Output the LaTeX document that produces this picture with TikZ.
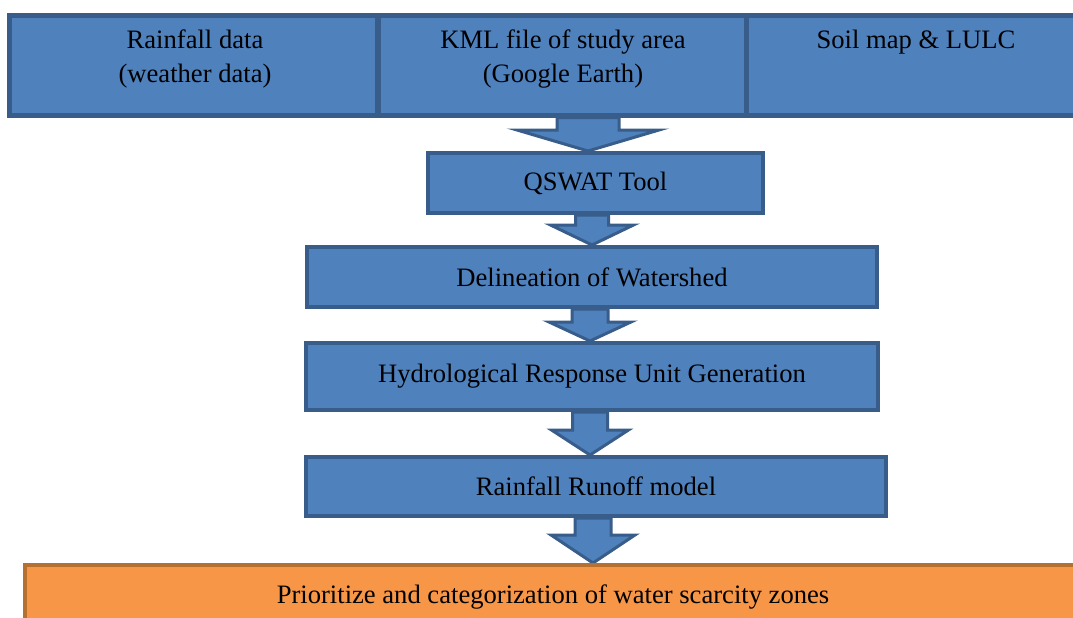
\documentclass[tikz,border=0pt]{standalone}
\usepackage{fontspec}
\setmainfont{Liberation Serif}
\usetikzlibrary{calc,backgrounds}

\definecolor{boxblue}{HTML}{4F81BD}
\definecolor{boxedge}{HTML}{385D8A}
\definecolor{zoneorange}{HTML}{F79646}
\definecolor{zoneedge}{HTML}{B6702F}

\tikzset{
    input/.style = {
        draw=boxedge,
        fill=boxblue,
        line width=2.5pt,
        inner sep=0pt
    },
    intext/.style = {
        align=center,
        inner sep=0pt
    },
    process/.style = {
        draw=boxedge,
        fill=boxblue,
        line width=2pt,
        inner sep=0pt
    },
    result/.style = {
        draw=zoneedge,
        fill=zoneorange,
        line width=2pt,
        inner sep=0pt
    },
    flow/.style = {
        draw=boxedge,
        fill=boxblue,
        line width=1.5pt,
        line join=miter
    }
}

% block arrow: source, target, axis, shaft half width, head half width, head length
\newcommand{\flowarrow}[6]{%
    \draw[flow] let \p1 = (#1.south), \p2 = (#2.north), \p3 = (#3) in
        (\x3-#4,\y1) -- (\x3+#4,\y1) -- (\x3+#4,\y2+#6) -- (\x3+#5,\y2+#6)
        -- (\x3,\y2) -- (\x3-#5,\y2+#6) -- (\x3-#4,\y2+#6) -- cycle;
}

\begin{document}
\begin{tikzpicture}[x=0.5pt, y=-0.5pt, font=\fontsize{13.3}{17}\selectfont]
    \useasboundingbox (0,0) rectangle (1073,617);
    \clip (0,0) rectangle (1073,617);

    % Draw input boxes
    \node[input, minimum width=184pt, minimum height=50pt] (rain) at (193,65) {};
    \node[input, minimum width=184pt, minimum height=50pt] (kml) at (562,65) {};
    \node[input, minimum width=170pt, minimum height=50pt] (soil) at (916,65) {};
    \node[intext] (raintext) at (195,59) {Rainfall data\\(weather data)};
    \node[intext] (kmltext) at (563,59) {KML file of study area\\(Google Earth)};
    \node[intext] (soiltext) at (916,42) {Soil map \& LULC};

    % Draw process steps
    \node[process, minimum width=167.5pt, minimum height=30pt] (qswat) at (595.5,183) {QSWAT Tool};
    \node[process, minimum width=285pt, minimum height=30pt] (delin) at (592,277) {Delineation of Watershed};
    \node[process, minimum width=286pt, minimum height=33.5pt] (hru) at (592,376.5) {Hydrological Response Unit Generation};
    \node[process, minimum width=290pt, minimum height=29.5pt] (runoff) at (596,486.5) {Rainfall Runoff model};
    \node[result, minimum width=528pt, minimum height=32pt] (zones) at (553,597) {Prioritize and categorization of water scarcity zones};

    % Draw arrows
    \coordinate (axis1) at (588,0);
    \coordinate (axis2) at (592,0);
    \coordinate (axis3) at (590,0);
    \coordinate (axis4) at (590,0);
    \coordinate (axis5) at (593,0);
    \begin{scope}[on background layer]
        \flowarrow{kml}{qswat}{axis1}{15.5pt}{35.5pt}{10.5pt}
        \flowarrow{qswat}{delin}{axis2}{8.25pt}{20.75pt}{10pt}
        \flowarrow{delin}{hru}{axis3}{9pt}{20.5pt}{9.5pt}
        \flowarrow{hru}{runoff}{axis4}{8.75pt}{19.25pt}{12.5pt}
        \flowarrow{runoff}{zones}{axis5}{9pt}{21pt}{14pt}
    \end{scope}
\end{tikzpicture}
\end{document}
